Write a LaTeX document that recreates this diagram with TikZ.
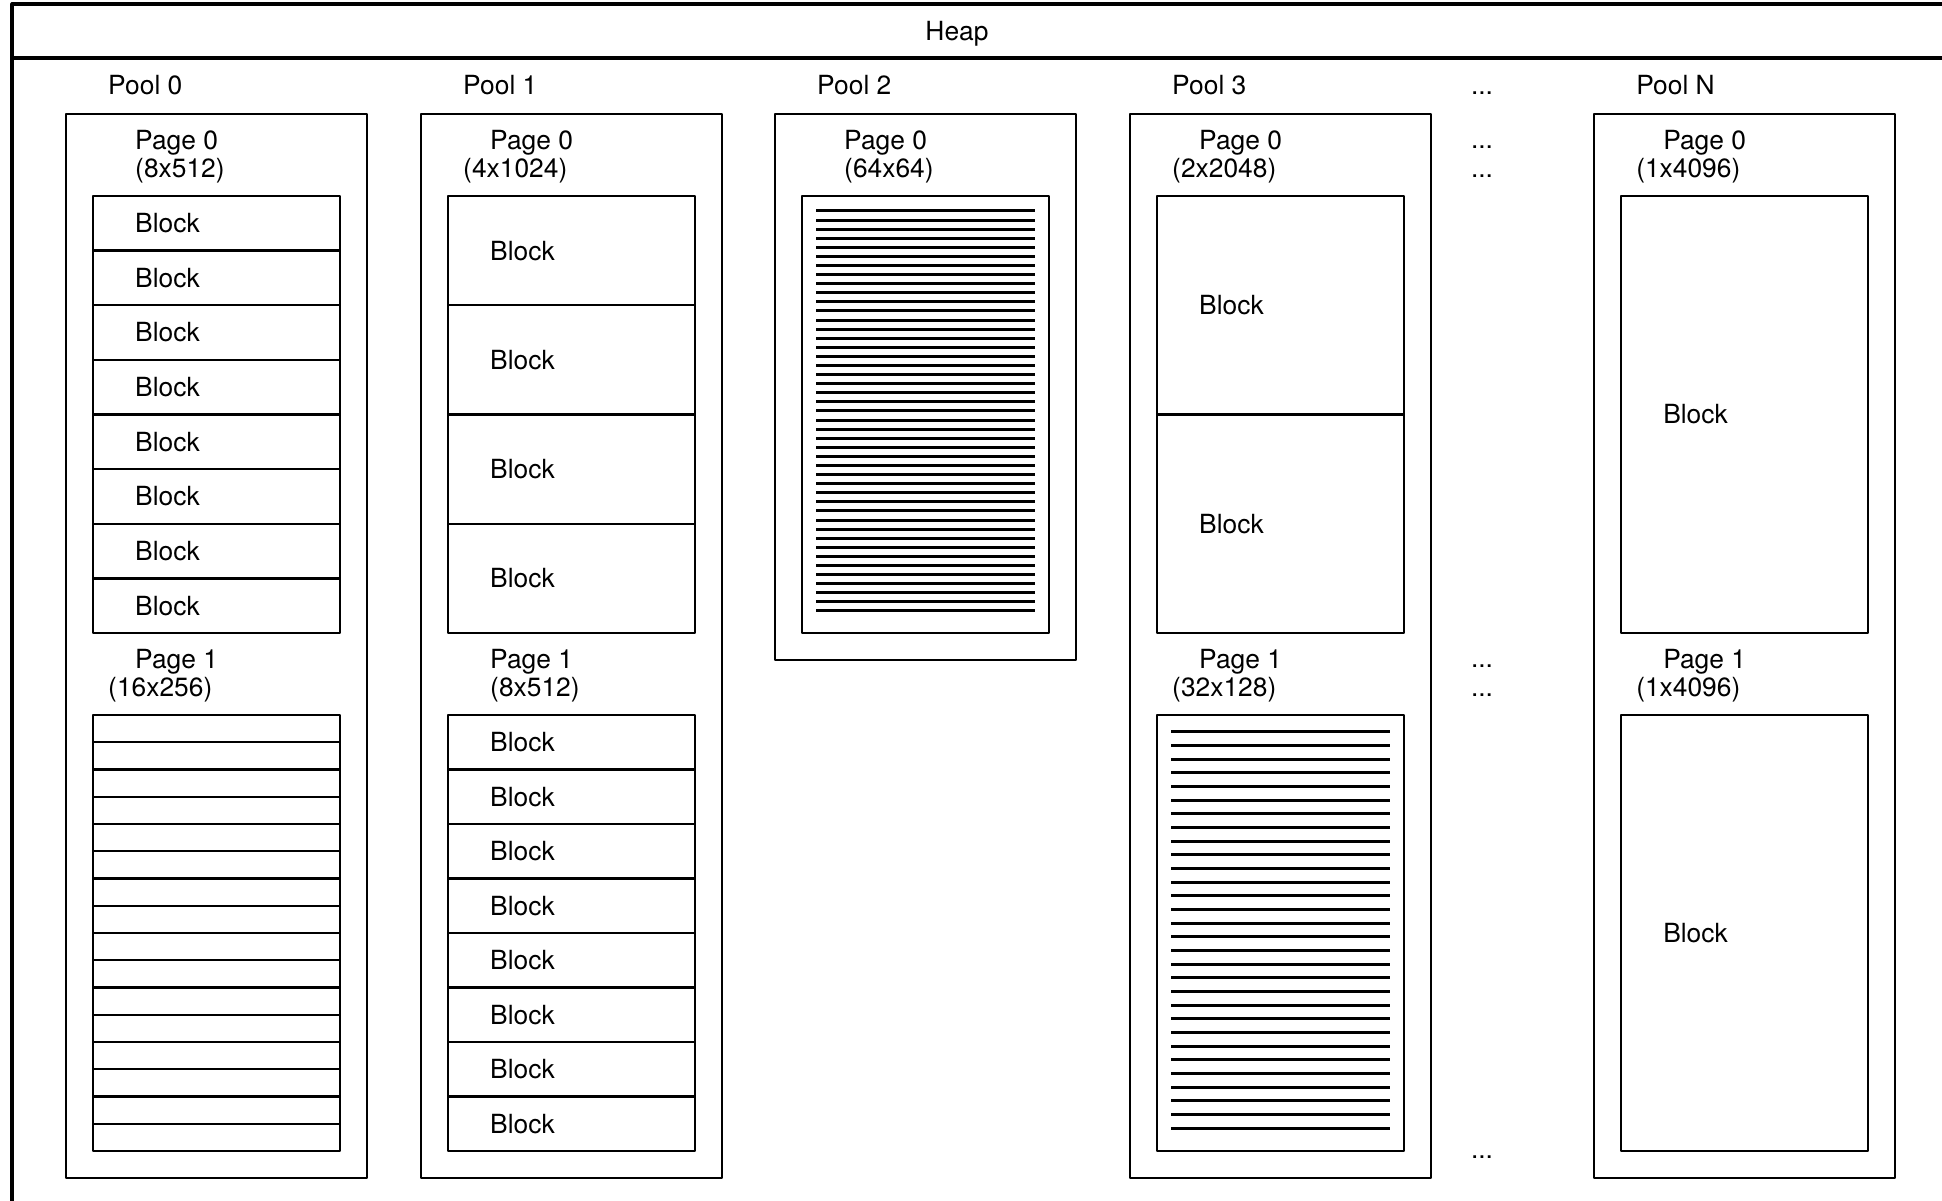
\documentclass[tikz,border=0pt]{standalone}
\usepackage{fontspec}
\setmainfont{TeX Gyre Heros}
\usetikzlibrary{positioning,calc}

\begin{document}
\begin{tikzpicture}[x=0.01cm,y=-0.01cm,line width=0.7pt,line join=round,
    every node/.style={font=\fontsize{7.5}{8}\selectfont,inner sep=0pt},
    lbl/.style={anchor=base west},
    heapline/.style={line width=0.9pt},
    hatch/.style={line width=0.85pt}]
  \useasboundingbox (0,0) rectangle (1942,1201);
  \clip (0,0) rectangle (1942,1201);

  % heap frame, open on the right and at the bottom
  \draw[heapline] (1960,4) -- (12,4) -- (12,1220);
  \draw[heapline] (12,58) -- (1960,58);
  \node[anchor=base] (heap) at (957,41) {Heap};

  % pools
  \foreach \n/\x/\b in {0/66/1178,1/421/1178,2/775/660,3/1130/1178,N/1594/1178} {
    \draw (\x,114) rectangle (\x+301,\b);
    \node[lbl] (pool\n) at (\x+41,95) {Pool \n};
  }

  % page titles
  \foreach \x/\y/\p/\s/\o in {66/150/0/{(8x512)}/68, 66/669/1/{(16x256)}/41,
      421/150/0/{(4x1024)}/41, 421/669/1/{(8x512)}/68, 775/150/0/{(64x64)}/68,
      1130/150/0/{(2x2048)}/41, 1130/669/1/{(32x128)}/41,
      1594/150/0/{(1x4096)}/41, 1594/669/1/{(1x4096)}/41} {
    \node[lbl] (pg-\x-\p) at (\x+68,\y) {Page \p};
    \node[lbl] (sz-\x-\p) at (\x+\o,\y+28) {\s};
  }

  % pages split into labelled blocks
  \foreach \x/\n/\t/\b in {66/8/196/633, 421/4/196/633, 421/8/715/1151,
      1130/2/196/633, 1594/1/196/633, 1594/1/715/1151} {
    \pgfmathsetmacro\h{(\b-\t)/\n}
    \foreach \i in {1,...,\n} {
      \draw ({\x+27},{\t+(\i-1)*\h}) rectangle ++(247,\h);
      \node[anchor=west] (blk-\x-\t-\i) at ({\x+68},{\t+(\i-0.5)*\h}) {Block};
    }
  }

  % pool 0, page 1: 16 small blocks
  \foreach \i in {0,...,15}
    \draw (93,{715+\i*27.25}) rectangle ++(247,27.25);

  % pool 2, page 0: 64 tiny blocks
  \draw (802,196) rectangle (1049,633);
  \foreach \i in {0,...,44}
    \draw[hatch] (816,{211+\i*9.09}) -- (1035,{211+\i*9.09});

  % pool 3, page 1: 32 tiny blocks
  \draw (1157,715) rectangle (1404,1151);
  \foreach \i in {0,...,29}
    \draw[hatch] (1171,{732+\i*13.66}) -- (1390,{732+\i*13.66});

  % gap between pool 3 and pool N
  \foreach \y in {95,149,178,668,697,1159}
    \node[anchor=base] (dots\y) at (1482,\y) {...};
\end{tikzpicture}
\end{document}
